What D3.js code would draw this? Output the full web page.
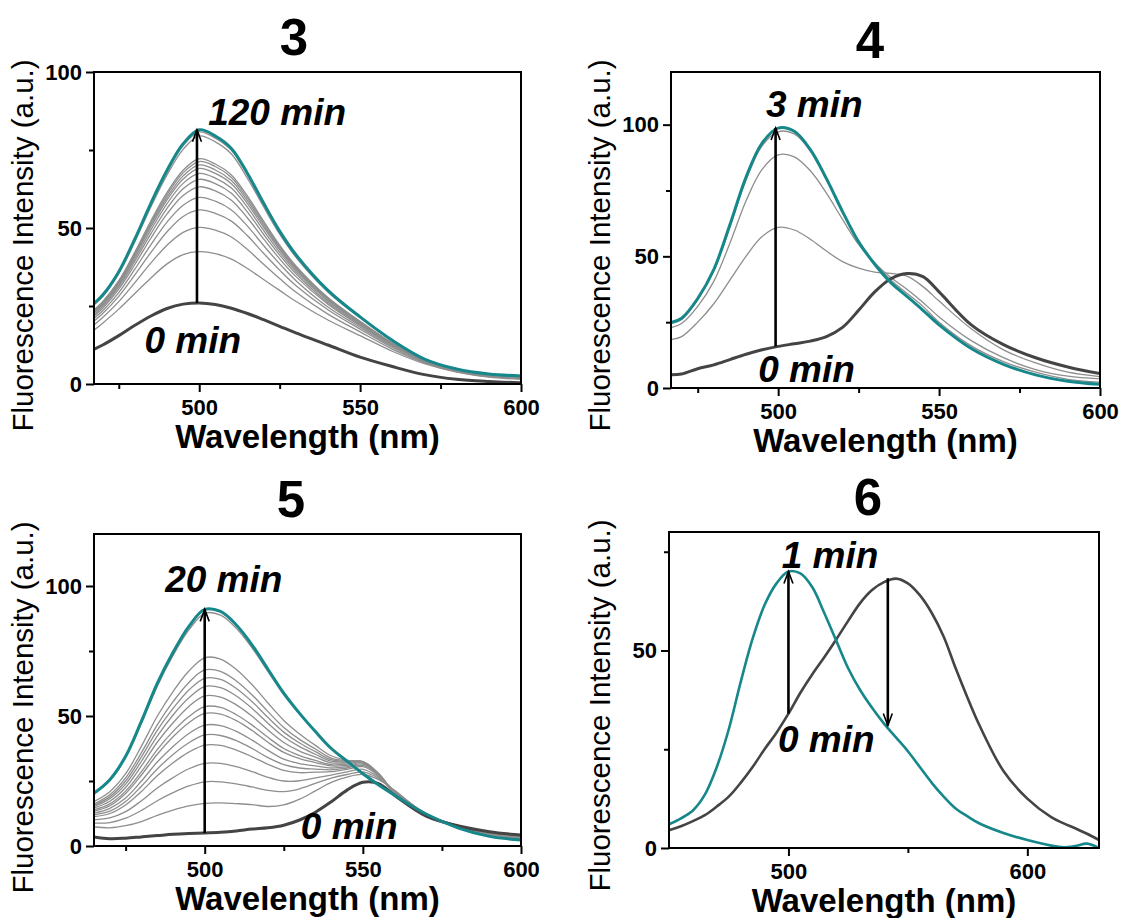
<!DOCTYPE html>
<html><head><meta charset="utf-8">
<script src="https://cdn.jsdelivr.net/npm/d3@7"></script>
<style>
body{margin:0;background:#fff}
svg{display:block}
</style>
</head><body>
<svg id="chart" width="1123" height="918"></svg>
<script>
// ---------------- DATA ----------------
// Panel 3
const wl3 = [467,470,475,480,485,490,495,500,505,510,515,520,525,530,540,550,560,570,580,590,600];
const teal3 = [25.5,28.5,36,46.5,58,68.5,77,81.5,79.5,75.5,67.5,58,49,41.5,30,21.5,14,8,4.8,3.2,2.6];
const dark3 = [11,12.5,15.5,18.8,21.8,24.2,25.6,26,25.5,24.3,22.6,20.6,18.5,16.4,12.5,8.6,5.6,3,1.5,0.8,0.4];
const gray3 = [
 [17,19.5,24,29,34,38.5,41.5,42.4,41.8,40,37,33.5,30,26.5,20.5,15.5,10.5,6.5,3.8,2.2,1.5],
 [18.7,21.3,26.4,32.5,38.8,44.5,48.6,50.2,49.3,47.1,43.1,38.4,33.8,29.5,22.4,16.7,11.2,6.8,4,2.4,1.7],
 [19.9,22.6,28.1,35,42.2,48.8,53.7,55.8,54.7,52.2,47.5,41.9,36.5,31.6,23.8,17.6,11.7,7,4.1,2.5,1.9],
 [20.8,23.5,29.3,36.8,44.7,51.9,57.3,59.8,58.6,55.8,50.6,44.4,38.5,33.2,24.7,18.2,12.1,7.2,4.2,2.6,2],
 [21.5,24.3,30.4,38.3,46.8,54.5,60.4,63.2,61.9,58.9,53.2,46.5,40.1,34.5,25.6,18.7,12.4,7.3,4.3,2.7,2.1],
 [22,24.8,31.1,39.4,48.2,56.3,62.6,65.6,64.2,61.1,55.1,48,41.3,35.4,26.1,19.1,12.6,7.4,4.4,2.8,2.2],
 [22.5,25.3,31.7,40.2,49.4,57.8,64.3,67.5,66,62.8,56.6,49.2,42.2,36.1,26.6,19.4,12.7,7.5,4.4,2.8,2.2],
 [22.8,25.6,32.2,41,50.4,59,65.7,69.1,67.5,64.2,57.8,50.2,43,36.7,27,19.6,12.9,7.5,4.5,2.9,2.3],
 [23,25.9,32.5,41.4,51.1,59.8,66.7,70.2,68.6,65.2,58.7,50.9,43.5,37.2,27.3,19.8,13,7.6,4.5,2.9,2.3],
 [23.3,26.2,32.9,41.9,51.7,60.7,67.7,71.3,69.7,66.2,59.5,51.6,44,37.6,27.5,19.9,13.1,7.6,4.5,2.9,2.3],
 [23.5,26.4,33.1,42.3,52.3,61.4,68.5,72.2,70.5,67,60.2,52.2,44.5,37.9,27.7,20.1,13.2,7.6,4.6,3,2.3],
 [25.1,28,35.4,45.6,56.8,67,75.2,79.5,77.6,73.7,65.9,56.8,48,40.7,29.5,21.2,13.8,7.9,4.8,3.1,2.5],
 [25.3,28.3,35.8,46.2,57.6,67.9,76.4,80.8,78.8,74.9,67,57.6,48.7,41.2,29.8,21.4,13.9,8,4.8,3.2,2.6]
];
// Panel 4
const wl4 = [467,470,475,480,485,490,495,500,505,510,515,520,525,530,535,540,545,550,560,570,580,590,600];
const teal4 = [25,26.5,34,45,62,80,93,98.7,97.5,90.5,79.5,67,55.5,47,40,34.8,29.5,24,15,9,5,2.6,1.4];
const dark4 = [5,5.3,7.3,8.8,10.8,12.8,14.5,15.8,16.8,17.8,19.5,23,29.5,36.5,41.5,43.5,42.3,36.5,24,16.5,11.5,8,5.5];
const gray4 = [
 [24.5,26,33.5,44.5,61,79,92,97.3,96.5,90,79,67,55.5,47.5,41,36,31,25,16,10,6,3.3,2.2],
 [23,24.5,31,40.5,55,71,83,88.5,87.8,82.5,74,64,54.5,47.5,42,37.5,32.5,27,18,11.5,7,4.5,3.5],
 [18.5,19.5,25,32,41,50,57.5,61,60,56.5,52,48,45.5,44,43.5,42.5,38.5,33,22.5,14.5,9.5,6,4.3]
];
// Panel 5
const wl5 = [465,470,475,480,485,490,495,500,505,510,515,520,525,530,535,540,545,550,555,560,570,580,590,600];
const teal5 = [20.3,25.5,34.5,48,62.5,74.5,84.5,91,90.2,85,77.3,68,58.8,51,44,37.5,32.6,27.8,23.5,19.6,12.3,7,3.7,2.3];
const dark5 = [3.5,2.8,3,3.5,4,4.5,4.8,5,5.3,5.8,6.5,7,8,10,13,17,21.5,24.5,24,19.5,11.5,7.8,5.5,4.2];
const gray5 = [
 [7.4,7.0,7.8,9.4,11.8,13.8,15.4,16.4,16.6,16.3,15.9,15.2,15.8,18,21.2,24.5,26.5,27.5,25.5,21.4,12.3,7.9,5.3,3.9],
 [8.8,9.0,10.7,13.7,17.4,20.5,23.1,24.7,24.7,23.9,22.7,21.4,20.9,22,24.1,26.1,27.5,28.5,26,21.3,12.4,7.8,5.1,3.8],
 [10.1,10.8,13.2,17.4,22.3,26.3,29.7,31.8,31.8,30.5,28.6,26.4,25,25.1,26.2,27.3,28.5,29.5,26.5,21.1,12.3,7.8,4.9,3.6],
 [11.3,12.5,15.8,21,27,32,36.1,38.8,38.7,36.9,34.3,31.4,29.1,28.2,28.4,28.6,29.5,30.5,27,20.9,12.3,7.7,4.8,3.5],
 [12,13.4,17.1,23,29.6,35.2,39.7,42.7,42.5,40.5,37.5,34,31.3,30,29.6,29.3,30,31,27.3,20.8,12.4,7.6,4.7,3.4],
 [12.6,14.5,18.5,25,32.3,38.3,43.3,46.5,46.3,44.1,40.7,36.8,33.4,31.7,30.8,30,30.5,31.5,27.5,20.7,12.4,7.6,4.6,3.3],
 [13.4,15.5,20.2,27.3,35.3,42,47.4,51,50.7,48.2,44.4,39.9,36,33.6,32.1,30.8,31,32,27.7,20.7,12.3,7.5,4.5,3.2],
 [13.9,16.2,21.1,28.6,37.1,44.1,49.8,53.6,53.3,50.5,46.5,41.8,37.5,34.8,32.9,31.3,31.5,32.3,27.8,20.7,12.4,7.4,4.5,3.1],
 [14.6,17.2,22.5,30.8,39.9,47.4,53.7,57.7,57.3,54.3,49.9,44.6,39.8,36.5,34.2,32,32,32.5,27.8,20.6,12.4,7.4,4.4,3],
 [15.2,18.2,23.8,32.6,42.3,50.4,57,61.3,60.9,57.7,52.9,47.2,42,38.2,35.3,32.6,32.3,32.5,27.8,20.5,12.3,7.4,4.3,3],
 [15.7,18.9,25,34.3,44.5,52.9,60,64.5,64.1,60.6,55.5,49.4,43.8,39.6,36.3,33.2,32.6,32.4,27.6,20.4,12.4,7.3,4.3,2.9],
 [16.2,19.7,26.2,35.9,46.6,55.5,62.9,67.7,67.2,63.5,58.1,51.7,45.6,41,37.3,33.8,32.8,32.2,27.4,20.4,12.4,7.3,4.2,2.8],
 [17.1,20.9,27.8,38.4,49.9,59.4,67.3,72.4,71.9,67.9,62,55,48.3,43.1,38.7,34.7,33,32,27.2,20.2,12.3,7.3,4.1,2.7],
 [20,25.1,34,47.2,61.5,73.3,83.1,89.5,88.8,83.7,76.1,67.1,58.1,50.7,44,37.8,33,28.2,23.9,19.8,12.4,7,3.7,2.3]
];
// Panel 6
const wl6 = [450,455,460,465,470,475,480,485,490,495,500,505,510,515,520,525,530,535,540,545,550,555,560,565,570,575,580,590,600,610,615,620,625,630];
const teal6 = [6,7.5,9.5,13.5,20.5,30,42,53,61.5,67,70,69.5,66,59.5,52.5,45.5,40,35.5,31.5,28,24.5,20.5,16.5,13,10,8,6.2,3.8,2,0.6,0.2,0.5,1.1,0];
const dark6 = [4.5,5.5,6.8,8.3,10.5,13,16.5,20.5,25,29.2,34,39.3,44,48.3,52.8,57.5,62,65.3,67.3,68.2,67,64,59.5,53.5,45.5,38,31,19.5,12.5,7.8,6.3,5,3.6,2];

// tick values
const xMajor356 = [500,550,600], xMinor356 = [475,525,575];
const xMajor6 = [500,600], xMinor6 = [550];
const yMajor = [0,50,100], yMinor = [25,75];
const yMajor6 = [0,50], yMinor6 = [25,75];

// text
const titles = ["3","4","5","6"];
const xLabel = "Wavelength (nm)";
const yLabel = "Fluorescence Intensity (a.u.)";

// annotations [text, wavelength, value]
const ann3 = [["120 min",502.8,83],["0 min",483,9.9]];
const ann4 = [["3 min",496.2,103],["0 min",493.8,2.4]];
const ann5 = [["20 min",487.5,97.8],["0 min",530.4,2.6]];
const ann6 = [["1 min",497.2,71],["0 min",495.6,24.2]];
// arrows [wavelength, from value, to value]
const arr3 = [[499.3,26,81.5]];
const arr4 = [[499.2,15.8,98.7]];
const arr5 = [[500,5,91]];
const arr6 = [[500,34,70],[541.6,68.3,31]];

// ---------------- STYLE / LAYOUT ----------------
const FONT = '"Liberation Sans", Arial, Helvetica, sans-serif';
const TEAL = "#16878a", DARK = "#444444", GRAY = "#8e8e8e";
const svg = d3.select("#chart");

const panels = [
 {id:3, title:titles[0], tx:294, ty:55, box:[94,521,72,384], xd:[467.3,600], yd:[0,100],
  xM:xMajor356, xm:xMinor356, yM:yMajor, ym:yMinor, wl:wl3, teal:teal3, dark:dark3, grays:gray3, ann:ann3, arr:arr3, ylx:33, lw:3},
 {id:4, title:titles[1], tx:870, ty:58, box:[671,1100,72,388], xd:[466.7,600], yd:[0,120],
  xM:xMajor356, xm:xMinor356, yM:yMajor, ym:yMinor, wl:wl4, teal:teal4, dark:dark4, grays:gray4, ann:ann4, arr:arr4, ylx:610, lw:3},
 {id:5, title:titles[2], tx:291, ty:517, box:[94,521,534,846], xd:[465,600], yd:[0,120],
  xM:xMajor356, xm:xMinor356, yM:yMajor, ym:yMinor, wl:wl5, teal:teal5, dark:dark5, grays:gray5, ann:ann5, arr:arr5, ylx:33, lw:3},
 {id:6, title:titles[3], tx:868, ty:515, box:[669,1099,532,848], xd:[450,630], yd:[0,80],
  xM:xMajor6, xm:xMinor6, yM:yMajor6, ym:yMinor6, wl:wl6, teal:teal6, dark:dark6, grays:[], ann:ann6, arr:arr6, ylx:610, lw:2.6}
];

function styleAxis(g){
  g.select(".domain").remove();
  g.selectAll(".tick line").attr("stroke","#000").attr("stroke-width",2);
  g.selectAll(".tick text").attr("fill","#000").style("font-family",FONT)
   .style("font-size","22px").style("font-weight","bold");
}

panels.forEach(p => {
  const [x0,x1,y0,y1] = p.box;
  const w = x1-x0, h = y1-y0;
  const g = svg.append("g").attr("transform",`translate(${x0},${y0})`);
  const x = d3.scaleLinear().domain(p.xd).range([0,w]);
  const y = d3.scaleLinear().domain(p.yd).range([h,0]);

  const clipId = "clip"+p.id;
  g.append("clipPath").attr("id",clipId).append("rect").attr("width",w).attr("height",h);
  const line = d3.line().x((d,i)=>x(p.wl[i])).y(d=>y(d)).curve(d3.curveCatmullRom.alpha(0.5));
  const lg = g.append("g").attr("clip-path",`url(#${clipId})`);
  p.grays.forEach(s => lg.append("path").attr("d",line(s)).attr("fill","none")
     .attr("stroke",GRAY).attr("stroke-width",1.3));
  lg.append("path").attr("d",line(p.dark)).attr("fill","none").attr("stroke",DARK).attr("stroke-width",p.lw);
  lg.append("path").attr("d",line(p.teal)).attr("fill","none").attr("stroke",TEAL).attr("stroke-width",p.lw);

  // axes
  const gx = g.append("g").attr("transform",`translate(0,${h})`)
    .call(d3.axisBottom(x).tickValues(p.xM).tickSize(8).tickSizeOuter(0).tickPadding(7).tickFormat(d3.format("d")));
  styleAxis(gx);
  const gxm = g.append("g").attr("transform",`translate(0,${h})`)
    .call(d3.axisBottom(x).tickValues(p.xm).tickSize(5).tickSizeOuter(0).tickFormat(""));
  styleAxis(gxm);
  const gy = g.append("g")
    .call(d3.axisLeft(y).tickValues(p.yM).tickSize(8).tickSizeOuter(0).tickPadding(4).tickFormat(d3.format("d")));
  styleAxis(gy);
  const gym = g.append("g")
    .call(d3.axisLeft(y).tickValues(p.ym).tickSize(5).tickSizeOuter(0).tickFormat(""));
  styleAxis(gym);

  g.append("rect").attr("width",w).attr("height",h).attr("fill","none").attr("stroke","#000").attr("stroke-width",2);

  // arrows
  p.arr.forEach(([xv,from,to]) => {
    const ax = x(xv), ya = y(from), yb = y(to);
    const dir = yb < ya ? 1 : -1;
    g.append("line").attr("x1",ax).attr("x2",ax).attr("y1",ya).attr("y2",yb)
     .attr("stroke","#000").attr("stroke-width",2.6);
    g.append("path").attr("d",`M${ax-4.5},${yb+dir*12}L${ax},${yb}L${ax+4.5},${yb+dir*12}`)
     .attr("fill","none").attr("stroke","#000").attr("stroke-width",1.6);
  });

  // annotations
  p.ann.forEach(([t,xv,yv]) => {
    g.append("text").attr("x",x(xv)).attr("y",y(yv)).text(t)
     .style("font-family",FONT).style("font-size","37px").style("font-weight","bold").style("font-style","italic")
     .attr("fill","#000");
  });

  // axis labels
  svg.append("text").attr("x",(x0+x1)/2).attr("y",y1+64).attr("text-anchor","middle").text(xLabel)
   .style("font-family",FONT).style("font-size","33px").style("font-weight","bold").attr("fill","#000");
  svg.append("text").attr("transform",`translate(${p.ylx},${y0+173.5}) rotate(-90)`).attr("text-anchor","middle")
   .text(yLabel).style("font-family",FONT).style("font-size","29.5px").attr("fill","#000");

  // title
  svg.append("text").attr("x",p.tx).attr("y",p.ty).attr("text-anchor","middle").text(p.title)
   .style("font-family",FONT).style("font-size","51px").style("font-weight","bold").attr("fill","#000");
});
</script>
</body></html>
